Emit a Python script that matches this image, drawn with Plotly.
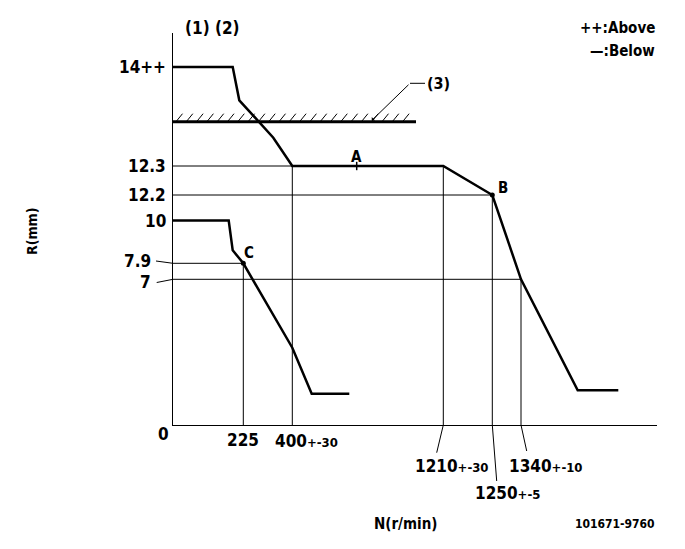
import numpy as np
import plotly.graph_objects as go

# ---- schematic drawing units (origin at axis corner) ----
x_tick_pos = [70.3, 119.3, 270.3, 319.3, 348.0]
x_tick_main = ["225", "400", "1210", "1250", "1340"]
x_tick_tol = ["", "+-30", "+-30", "+-5", "+-10"]

y_tick_pos = [358.0, 259.0, 230.0, 204.5, 161.7, 145.7, 0.0]
y_tick_text = ["14++", "12.3", "12.2", "10", "7.9", "7", "0"]

# upper governor curve
upper_x = [0, 59.7, 66.3, 100.3, 119.3, 270.3, 319.3, 348.0, 404.7, 445.3]
upper_y = [358, 358, 324.7, 287.3, 259, 259, 230, 145.7, 34.7, 34.7]

# lower curve
lower_x = [0, 55.7, 59.7, 70.3, 119.3, 138.7, 176.3]
lower_y = [204.5, 204.5, 174.7, 161.7, 77.3, 31.3, 31.3]

# stop line (3)
stop_y = 303.3
stop_x_end = 243.0

# named points
point_names = ["A", "B", "C"]
point_x = [183.7, 319.3, 70.3]
point_y = [259, 230, 161.7]

FONT = "Liberation Sans Narrow, DejaVu Sans Condensed, Arial Narrow, sans-serif"
BLK = "black"

# page has an 8px body margin; figure is shrunk to fit the window
W, H = 677, 541
PW, PH = 484, 392
L, T = 165, 25
R_ = W - L - PW
B = H - T - PH

fig = go.Figure()

def seg(xs, ys, w=1):
    fig.add_trace(go.Scatter(x=xs, y=ys, mode="lines", line=dict(color=BLK, width=w),
                             hoverinfo="skip", showlegend=False, cliponaxis=False))

shapes = []
def pseg(x0, y0, x1, y1, w=1):
    # leader segment outside the plot area (drawing units -> paper)
    shapes.append(dict(type="line", xref="paper", yref="paper",
                       x0=x0 / PW, y0=y0 / PH, x1=x1 / PW, y1=y1 / PH,
                       line=dict(color=BLK, width=w)))

# guide lines
v_tops = [161.7, 259, 259, 230, 145.7]
for xp, top in zip(x_tick_pos, v_tops):
    seg([xp, xp], [0, top])
h_guides = {259.0: 270.3, 230.0: 319.3, 161.7: 70.3, 145.7: 348.0}
for yp, right in h_guides.items():
    seg([0, right], [yp, yp])

# stop line with hatching
seg([0, stop_x_end], [stop_y, stop_y], 3)
hx = np.arange(3, stop_x_end - 6, 10.3)
hatch_x, hatch_y = [], []
for h in hx:
    hatch_x += [h, h + 6.5, None]
    hatch_y += [stop_y, stop_y + 8, None]
seg(hatch_x, hatch_y, 1)

# curves
seg(upper_x, upper_y, 2.5)
seg(lower_x, lower_y, 2.5)

# points
fig.add_trace(go.Scatter(x=point_x[1:], y=point_y[1:], mode="markers",
                         marker=dict(color=BLK, size=5), showlegend=False, hoverinfo="skip",
                         cliponaxis=False))
fig.add_trace(go.Scatter(x=[point_x[0]], y=[point_y[0]], mode="markers",
                         marker=dict(color=BLK, size=6, symbol="line-ns", line=dict(width=1.5, color=BLK)),
                         showlegend=False, hoverinfo="skip"))

# leader lines for labels
pseg(-17, 164, 0, 161.7)
pseg(-16.3, 142.5, 0, 145.7)
pseg(270.3, 0, 263.7, -27.7)
pseg(319.3, 0, 323.7, -56)
pseg(348.0, 0, 353.7, -26)
seg([237, 252], [341.7, 341.7])

ann = []
def txt(x, y, t, size=17, xanchor="center", textangle=0):
    # x, y in drawing units -> paper fractions
    ann.append(dict(x=x / PW, y=y / PH, xref="paper", yref="paper", text=t, showarrow=False,
                    xanchor=xanchor, yanchor="middle", textangle=textangle,
                    font=dict(family=FONT, size=size, color=BLK)))

# y tick labels
y_lab_x = [-5, -5, -5, -5, -20, -20, -10]
y_lab_y = [358, 259, 230, 204.5, 164, 143, -9]
for t, lx, ly in zip(y_tick_text, y_lab_x, y_lab_y):
    txt(lx, ly, "<b>%s</b>" % t, xanchor="right" if t != "0" else "center")

# x tick labels
x_lab_x = [70.3, 100, 240, 300, 334]
x_lab_y = [-15, -16, -41, -67.7, -41]
for m, tol, lx, ly in zip(x_tick_main, x_tick_tol, x_lab_x, x_lab_y):
    t = "<b>%s</b>" % m
    if tol:
        t += "<span style='font-size:13px'><b>%s</b></span>" % tol
    txt(lx, ly, t, xanchor="center" if not tol else "left")

# point labels
txt(183.7, 268, "<b>A</b>", size=15)
txt(330, 237, "<b>B</b>", size=15)
txt(75.5, 172, "<b>C</b>", size=15)

# stop line label
txt(265, 341.5, "<b>(3)</b>", size=16)
ann.append(dict(x=198.7, y=304.5, ax=237, ay=341.7, xref="x", yref="y", axref="x", ayref="y",
                text="", showarrow=True, arrowhead=1, arrowsize=0.8, arrowwidth=1, arrowcolor=BLK))

# header / footer texts (drawing units: x = px-173, y = 424-py)
txt(39, 397, "<b>(1) (2)</b>", size=17)
txt(484, 397, "<b>++:Above</b>", size=15, xanchor="right")
txt(484, 374, "<b>\u2014:Below</b>", size=15, xanchor="right")
txt(233, -99, "<b>N(r/min)</b>", size=15)
txt(484, -99, "<b>101671-9760</b>", size=12, xanchor="right")
txt(-141, 193, "<b>R(mm)</b>", size=14, textangle=-90)

fig.update_layout(
    width=W, height=H,
    margin=dict(l=L, r=R_, t=T, b=B, pad=0),
    paper_bgcolor="white", plot_bgcolor="white",
    xaxis=dict(range=[0, PW], showgrid=False, zeroline=False, showticklabels=False,
               ticks="", showline=True, linecolor=BLK, linewidth=1),
    yaxis=dict(range=[0, PH], showgrid=False, zeroline=False, showticklabels=False,
               ticks="", showline=True, linecolor=BLK, linewidth=1),
    annotations=ann,
    shapes=shapes,
    showlegend=False,
)
fig.write_html("out.html")
